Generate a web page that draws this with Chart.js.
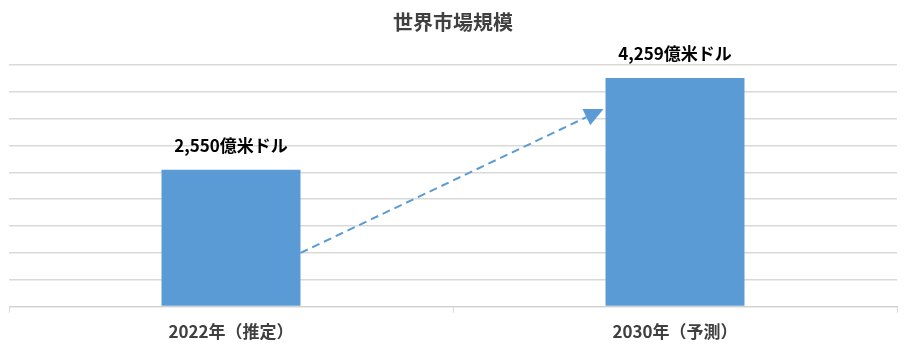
<!DOCTYPE html>
<html>
<head>
<meta charset="utf-8">
<script src="https://cdn.jsdelivr.net/npm/chart.js@4"></script>
<style>
  html, body { margin: 0; padding: 0; background: #fff; }
  #wrap { width: 912px; height: 354px; }
</style>
</head>
<body>
<div id="wrap"><canvas id="bar-chart"></canvas></div>
<script>
// data
var categories = ["2022年（推定）", "2030年（予測）"];
var marketSize = [2550, 4259];
var valueLabels = ["2,550億米ドル", "4,259億米ドル"];
// arrow runs from the first bar to the second (values on the y scale)
var arrowFrom = 1000;
var arrowTo = 3680;

var FONT = "'Noto Sans CJK JP', 'Noto Sans', sans-serif";
var BLUE = "#5B9BD5";

// bar labels + arrow
var extras = {
  id: 'extras',
  afterDatasetsDraw: function(chart) {
    var ctx = chart.ctx;
    var meta = chart.getDatasetMeta(0);
    var y = chart.scales.y;

    ctx.save();
    ctx.font = "bold 17px " + FONT;
    ctx.fillStyle = "#000";
    ctx.textAlign = "center";
    ctx.textBaseline = "middle";
    meta.data.forEach(function(bar, i) {
      ctx.fillText(valueLabels[i], bar.x, bar.y - 24);
    });

    var b0 = meta.data[0], b1 = meta.data[1];
    var x1 = b0.x + b0.width / 2, y1 = y.getPixelForValue(arrowFrom);
    var x2 = b1.x - b1.width / 2 - 2, y2 = y.getPixelForValue(arrowTo);
    var ang = Math.atan2(y2 - y1, x2 - x1);
    var head = 19, half = 9;
    var bx = x2 - head * Math.cos(ang), by = y2 - head * Math.sin(ang);

    ctx.strokeStyle = BLUE;
    ctx.lineWidth = 2;
    ctx.setLineDash([8, 5]);
    ctx.beginPath();
    ctx.moveTo(x1, y1);
    ctx.lineTo(bx, by);
    ctx.stroke();
    ctx.setLineDash([]);

    ctx.fillStyle = BLUE;
    ctx.beginPath();
    ctx.moveTo(x2, y2);
    ctx.lineTo(bx + half * Math.sin(ang), by - half * Math.cos(ang));
    ctx.lineTo(bx - half * Math.sin(ang), by + half * Math.cos(ang));
    ctx.closePath();
    ctx.fill();
    ctx.restore();
  }
};

new Chart(document.getElementById("bar-chart"), {
  type: 'bar',
  data: {
    labels: categories,
    datasets: [{
      label: "世界市場規模",
      data: marketSize,
      backgroundColor: BLUE,
      categoryPercentage: 1,
      barPercentage: 0.313
    }]
  },
  options: {
    responsive: true,
    maintainAspectRatio: false,
    animation: false,
    layout: { padding: { left: 9, right: 15, top: 0, bottom: 3 } },
    plugins: {
      legend: { display: false },
      tooltip: { enabled: false },
      title: {
        display: true,
        text: '世界市場規模',
        color: '#404040',
        font: { family: FONT, size: 20, weight: 'bold' },
        padding: { top: 10, bottom: 31 }
      }
    },
    scales: {
      x: {
        offset: true,
        grid: { drawOnChartArea: false, drawTicks: true, tickLength: 6, color: '#d9d9d9' },
        border: { color: '#d0d0d0' },
        ticks: { color: '#404040', padding: 9, font: { family: FONT, size: 17, weight: 'bold' } }
      },
      y: {
        min: 0,
        max: 4500,
        ticks: { display: false, stepSize: 500 },
        border: { display: false },
        grid: { drawTicks: false, color: '#d9d9d9', lineWidth: 1.5 }
      }
    }
  },
  plugins: [extras]
});
</script>
</body>
</html>
